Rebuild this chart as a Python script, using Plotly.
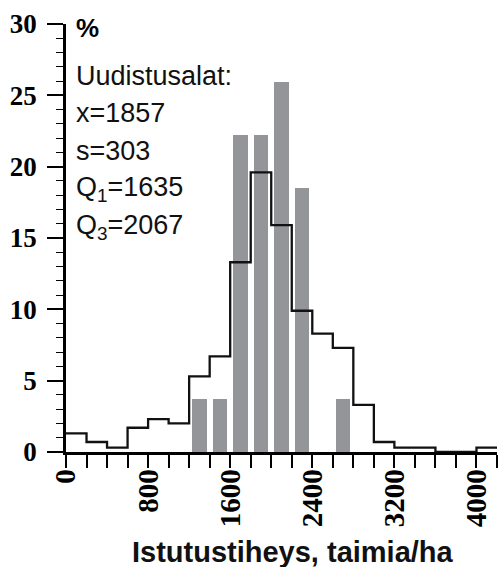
import plotly.graph_objects as go

# Planting density histogram (share of stands, %), 200 seedlings/ha bins
bin_edges = list(range(0, 4400, 200))  # 0 ... 4200
all_stands_pct = [1.3, 0.7, 0.3, 1.7, 2.3, 2.0, 5.3, 6.7, 13.3, 19.6, 15.9,
                  9.9, 8.3, 7.3, 3.3, 0.7, 0.3, 0.3, 0.0, 0.0, 0.3]

# Regeneration areas (Uudistusalat), bar centres and shares
renewal_centers = [1300, 1500, 1700, 1900, 2100, 2300, 2700]
renewal_pct = [3.7, 3.7, 22.2, 22.2, 25.9, 18.5, 3.7]

x_tick_vals = [0, 800, 1600, 2400, 3200, 4000]
y_tick_vals = [0, 5, 10, 15, 20, 25, 30]

stats_lines = ["Uudistusalat:", "x=1857", "s=303",
               "Q<sub>1</sub>=1635", "Q<sub>3</sub>=2067"]
stats_y = [26.35, 23.75, 21.1, 18.4, 15.75]

SANS = "Liberation Sans"

fig = go.Figure()

fig.add_trace(go.Bar(
    x=renewal_centers, y=renewal_pct, width=140,
    marker=dict(color="#939598", line=dict(width=0)),
    showlegend=False,
))

step_x = bin_edges
step_y = all_stands_pct + [all_stands_pct[-1]]
fig.add_trace(go.Scatter(
    x=step_x, y=step_y, mode="lines", line_shape="hv",
    line=dict(color="#111111", width=2.3),
    showlegend=False, cliponaxis=False,
))

fig.update_xaxes(
    range=[0, 4200], tickvals=x_tick_vals, ticktext=[f"<b>{v}</b>" for v in x_tick_vals],
    ticks="outside", ticklen=13, tickwidth=1.5, tickcolor="black",
    minor=dict(dtick=200, tick0=0, ticks="outside", ticklen=13, tickwidth=1.5, tickcolor="black"),
    tickangle=-90, tickfont=dict(family="Liberation Serif", size=29, color="black"),
    ticklabelstandoff=-10,
    showline=True, linecolor="black", linewidth=2.5,
    showgrid=False, zeroline=False, automargin=False,
)
fig.update_yaxes(
    range=[0, 30], tickvals=y_tick_vals, ticktext=[f"<b>{v}</b>" for v in y_tick_vals],
    ticks="outside", ticklen=16, tickwidth=1.5, tickcolor="black",
    minor=dict(dtick=1, tick0=0, ticks="outside", ticklen=7, tickwidth=1.2, tickcolor="black"),
    tickfont=dict(family="Liberation Serif", size=27, color="black"),
    ticklabelstandoff=5,
    showline=True, linecolor="black", linewidth=2.5,
    showgrid=False, zeroline=False, automargin=False,
)

annotations = [dict(
    x=78, y=29.75, xref="x", yref="y", text="<b>%</b>", showarrow=False,
    xanchor="left", yanchor="middle",
    font=dict(family=SANS, size=26, color="black"),
)]
for txt, yv in zip(stats_lines, stats_y):
    annotations.append(dict(
        x=78, y=yv, xref="x", yref="y", text=txt, showarrow=False,
        xanchor="left", yanchor="middle",
        font=dict(family=SANS, size=27, color="#111111"),
    ))
annotations.append(dict(
    x=0.526, y=-0.234, xref="paper", yref="paper",
    text="<b>Istutustiheys, taimia/ha</b>", showarrow=False,
    xanchor="center", yanchor="middle",
    font=dict(family=SANS, size=29, color="#111111"),
))

fig.update_layout(
    width=500, height=567,
    margin=dict(l=66, r=3, t=24, b=115),
    plot_bgcolor="white", paper_bgcolor="white",
    bargap=0, annotations=annotations,
    template="none",
)

fig.write_html("out.html")
